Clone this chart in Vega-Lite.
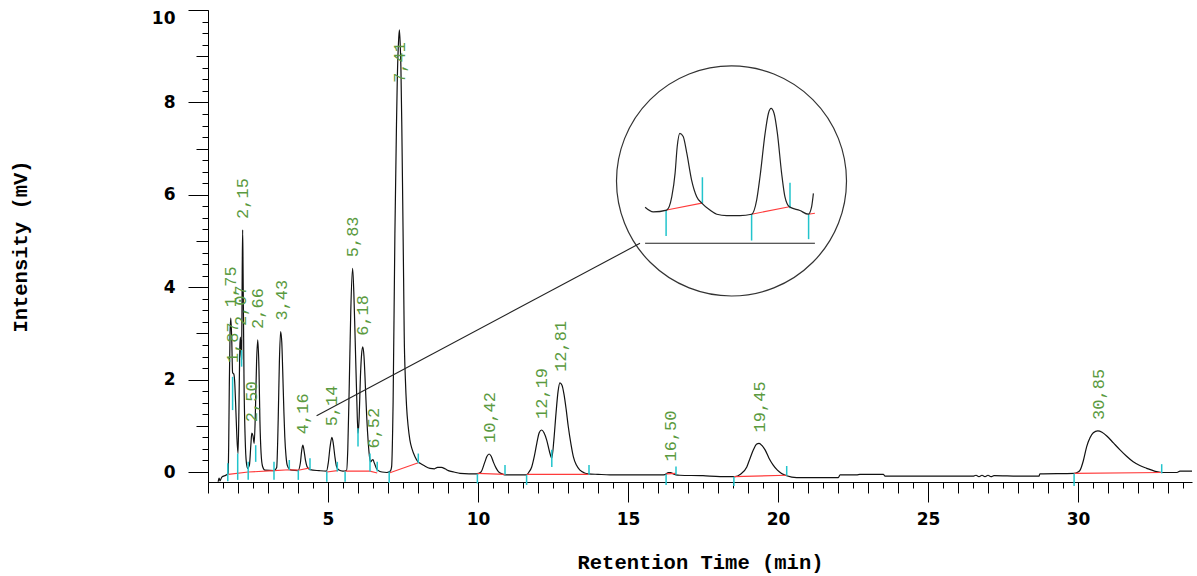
{
  "$schema": "https://vega.github.io/schema/vega-lite/v6.json",
  "width": 984,
  "height": 472,
  "autosize": {"type": "none"},
  "padding": {"left": 208, "top": 10, "right": 5, "bottom": 94},
  "background": "white",
  "config": {
    "view": {"stroke": null},
    "axis": {"grid": false, "domainColor": "#000", "tickColor": "#000", "labelColor": "#000", "titleColor": "#000", "domainWidth": 1, "tickWidth": 1}
  },
  "datasets": {
    "trace": [
      {"t": 1.34, "mV": -0.21}, {"t": 1.37, "mV": -0.13}, {"t": 1.40, "mV": -0.19}, {"t": 1.46, "mV": -0.11},
      {"t": 1.62, "mV": -0.06}, {"t": 1.67, "mV": -0.03}, {"t": 1.69, "mV": 0.6}, {"t": 1.71, "mV": 1.85},
      {"t": 1.735, "mV": 3.0}, {"t": 1.76, "mV": 3.33}, {"t": 1.79, "mV": 2.9}, {"t": 1.82, "mV": 2.15},
      {"t": 1.86, "mV": 2.12}, {"t": 1.89, "mV": 1.95}, {"t": 1.92, "mV": 1.5}, {"t": 1.96, "mV": 0.8},
      {"t": 2.0, "mV": 0.4}, {"t": 2.03, "mV": 1.3}, {"t": 2.06, "mV": 2.7}, {"t": 2.08, "mV": 2.92},
      {"t": 2.10, "mV": 2.6}, {"t": 2.12, "mV": 2.45}, {"t": 2.14, "mV": 4.3}, {"t": 2.155, "mV": 5.24},
      {"t": 2.17, "mV": 4.3}, {"t": 2.2, "mV": 2.0}, {"t": 2.24, "mV": 0.7}, {"t": 2.28, "mV": 0.2},
      {"t": 2.32, "mV": 0.08}, {"t": 2.38, "mV": 0.15}, {"t": 2.43, "mV": 0.6}, {"t": 2.46, "mV": 0.84},
      {"t": 2.5, "mV": 0.78}, {"t": 2.54, "mV": 0.62}, {"t": 2.58, "mV": 1.3}, {"t": 2.62, "mV": 2.4},
      {"t": 2.66, "mV": 2.86}, {"t": 2.70, "mV": 2.2}, {"t": 2.73, "mV": 1.13}, {"t": 2.77, "mV": 0.4},
      {"t": 2.82, "mV": 0.12}, {"t": 2.9, "mV": 0.04}, {"t": 3.2, "mV": 0.03}, {"t": 3.29, "mV": 0.1},
      {"t": 3.34, "mV": 1.13}, {"t": 3.38, "mV": 2.4}, {"t": 3.42, "mV": 3.04}, {"t": 3.46, "mV": 2.8},
      {"t": 3.49, "mV": 2.2}, {"t": 3.53, "mV": 1.3}, {"t": 3.56, "mV": 0.76}, {"t": 3.6, "mV": 0.35},
      {"t": 3.64, "mV": 0.15}, {"t": 3.72, "mV": 0.06}, {"t": 3.8, "mV": 0.04}, {"t": 4.0, "mV": 0.03},
      {"t": 4.08, "mV": 0.2}, {"t": 4.12, "mV": 0.45}, {"t": 4.16, "mV": 0.58}, {"t": 4.2, "mV": 0.47},
      {"t": 4.25, "mV": 0.25}, {"t": 4.3, "mV": 0.12}, {"t": 4.4, "mV": 0.05}, {"t": 4.7, "mV": 0.03},
      {"t": 4.95, "mV": 0.02}, {"t": 5.01, "mV": 0.2}, {"t": 5.07, "mV": 0.55}, {"t": 5.13, "mV": 0.75},
      {"t": 5.18, "mV": 0.6}, {"t": 5.23, "mV": 0.33}, {"t": 5.28, "mV": 0.13}, {"t": 5.35, "mV": 0.05},
      {"t": 5.5, "mV": 0.02}, {"t": 5.62, "mV": 0.04}, {"t": 5.66, "mV": 0.5}, {"t": 5.71, "mV": 1.92},
      {"t": 5.76, "mV": 3.5}, {"t": 5.82, "mV": 4.41}, {"t": 5.86, "mV": 3.9}, {"t": 5.9, "mV": 3.0},
      {"t": 5.96, "mV": 1.56}, {"t": 6.0, "mV": 0.84}, {"t": 6.04, "mV": 1.2}, {"t": 6.08, "mV": 2.05},
      {"t": 6.12, "mV": 2.55}, {"t": 6.16, "mV": 2.71}, {"t": 6.2, "mV": 2.5}, {"t": 6.25, "mV": 1.8},
      {"t": 6.29, "mV": 1.2}, {"t": 6.34, "mV": 0.65}, {"t": 6.38, "mV": 0.35}, {"t": 6.42, "mV": 0.22},
      {"t": 6.47, "mV": 0.26}, {"t": 6.5, "mV": 0.27}, {"t": 6.53, "mV": 0.22}, {"t": 6.57, "mV": 0.15},
      {"t": 6.62, "mV": 0.07}, {"t": 6.68, "mV": 0.03}, {"t": 6.8, "mV": 0.0}, {"t": 6.96, "mV": -0.01},
      {"t": 7.08, "mV": 0.02}, {"t": 7.12, "mV": 0.11}, {"t": 7.17, "mV": 1.5}, {"t": 7.23, "mV": 5.17},
      {"t": 7.28, "mV": 7.4}, {"t": 7.31, "mV": 8.5}, {"t": 7.35, "mV": 9.3}, {"t": 7.38, "mV": 9.57},
      {"t": 7.41, "mV": 9.2}, {"t": 7.43, "mV": 8.77}, {"t": 7.46, "mV": 7.5}, {"t": 7.49, "mV": 5.89},
      {"t": 7.52, "mV": 4.2}, {"t": 7.54, "mV": 3.0}, {"t": 7.58, "mV": 2.0}, {"t": 7.62, "mV": 1.41},
      {"t": 7.67, "mV": 1.0}, {"t": 7.73, "mV": 0.69}, {"t": 7.8, "mV": 0.5}, {"t": 7.9, "mV": 0.33},
      {"t": 8.0, "mV": 0.22}, {"t": 8.07, "mV": 0.19}, {"t": 8.2, "mV": 0.14}, {"t": 8.4, "mV": 0.08},
      {"t": 8.55, "mV": 0.07}, {"t": 8.65, "mV": 0.1}, {"t": 8.78, "mV": 0.1}, {"t": 8.9, "mV": 0.07},
      {"t": 9.01, "mV": 0.03}, {"t": 9.2, "mV": 0.0}, {"t": 9.4, "mV": -0.03}, {"t": 9.7, "mV": -0.04},
      {"t": 9.97, "mV": -0.04}, {"t": 10.1, "mV": 0.0}, {"t": 10.23, "mV": 0.22}, {"t": 10.3, "mV": 0.34},
      {"t": 10.37, "mV": 0.39}, {"t": 10.44, "mV": 0.34}, {"t": 10.51, "mV": 0.22}, {"t": 10.6, "mV": 0.09},
      {"t": 10.68, "mV": 0.01}, {"t": 10.8, "mV": -0.04}, {"t": 10.9, "mV": -0.06}, {"t": 11.3, "mV": -0.06},
      {"t": 11.62, "mV": -0.06}, {"t": 11.7, "mV": 0.0}, {"t": 11.79, "mV": 0.11}, {"t": 11.88, "mV": 0.35},
      {"t": 11.96, "mV": 0.62}, {"t": 12.04, "mV": 0.85}, {"t": 12.12, "mV": 0.91}, {"t": 12.2, "mV": 0.85},
      {"t": 12.29, "mV": 0.69}, {"t": 12.38, "mV": 0.45}, {"t": 12.46, "mV": 0.3}, {"t": 12.53, "mV": 0.7},
      {"t": 12.6, "mV": 1.27}, {"t": 12.67, "mV": 1.75}, {"t": 12.73, "mV": 1.93}, {"t": 12.8, "mV": 1.88},
      {"t": 12.87, "mV": 1.67}, {"t": 12.94, "mV": 1.35}, {"t": 13.01, "mV": 0.98}, {"t": 13.1, "mV": 0.6},
      {"t": 13.18, "mV": 0.33}, {"t": 13.28, "mV": 0.15}, {"t": 13.4, "mV": 0.04}, {"t": 13.55, "mV": -0.02},
      {"t": 13.68, "mV": -0.04}, {"t": 14.0, "mV": -0.05}, {"t": 14.4, "mV": -0.06}, {"t": 15.0, "mV": -0.06},
      {"t": 15.5, "mV": -0.06}, {"t": 16.18, "mV": -0.06}, {"t": 16.28, "mV": -0.04}, {"t": 16.34, "mV": -0.01},
      {"t": 16.42, "mV": -0.01}, {"t": 16.51, "mV": -0.04}, {"t": 16.6, "mV": -0.06}, {"t": 16.73, "mV": -0.07},
      {"t": 17.5, "mV": -0.08}, {"t": 18.07, "mV": -0.1}, {"t": 18.57, "mV": -0.1}, {"t": 18.75, "mV": -0.05},
      {"t": 18.96, "mV": 0.11}, {"t": 19.07, "mV": 0.3}, {"t": 19.18, "mV": 0.48}, {"t": 19.28, "mV": 0.6},
      {"t": 19.37, "mV": 0.62}, {"t": 19.47, "mV": 0.57}, {"t": 19.57, "mV": 0.48}, {"t": 19.7, "mV": 0.3},
      {"t": 19.84, "mV": 0.15}, {"t": 19.98, "mV": 0.04}, {"t": 20.12, "mV": -0.03}, {"t": 20.29, "mV": -0.08},
      {"t": 20.62, "mV": -0.12}, {"t": 22.01, "mV": -0.12}, {"t": 22.07, "mV": -0.06}, {"t": 22.62, "mV": -0.06},
      {"t": 22.73, "mV": -0.05}, {"t": 23.51, "mV": -0.05}, {"t": 23.57, "mV": -0.09}, {"t": 26.5, "mV": -0.09},
      {"t": 26.6, "mV": -0.07}, {"t": 26.7, "mV": -0.1}, {"t": 26.8, "mV": -0.07}, {"t": 26.9, "mV": -0.1},
      {"t": 27.0, "mV": -0.07}, {"t": 27.1, "mV": -0.1}, {"t": 27.2, "mV": -0.08}, {"t": 28.07, "mV": -0.09},
      {"t": 28.7, "mV": -0.09}, {"t": 28.73, "mV": -0.04}, {"t": 29.87, "mV": -0.03}, {"t": 30.0, "mV": 0.0},
      {"t": 30.07, "mV": 0.04}, {"t": 30.18, "mV": 0.25}, {"t": 30.29, "mV": 0.55}, {"t": 30.4, "mV": 0.74},
      {"t": 30.51, "mV": 0.85}, {"t": 30.66, "mV": 0.89}, {"t": 30.8, "mV": 0.86}, {"t": 30.96, "mV": 0.78},
      {"t": 31.18, "mV": 0.63}, {"t": 31.4, "mV": 0.48}, {"t": 31.62, "mV": 0.34}, {"t": 31.84, "mV": 0.22},
      {"t": 32.06, "mV": 0.14}, {"t": 32.29, "mV": 0.08}, {"t": 32.55, "mV": 0.02}, {"t": 32.79, "mV": -0.01},
      {"t": 33.3, "mV": -0.01}, {"t": 33.4, "mV": 0.02}, {"t": 33.8, "mV": 0.02}
    ],
    "peaks": [
      {"rt": "1,75", "t": 1.76, "apex": 3.33}, {"rt": "1,87", "t": 1.83, "apex": 2.12},
      {"rt": "2,07", "t": 2.1, "apex": 2.92}, {"rt": "2,15", "t": 2.155, "apex": 5.24},
      {"rt": "2,50", "t": 2.46, "apex": 0.84}, {"rt": "2,66", "t": 2.67, "apex": 2.86},
      {"rt": "3,43", "t": 3.45, "apex": 3.04}, {"rt": "4,16", "t": 4.17, "apex": 0.58},
      {"rt": "5,14", "t": 5.14, "apex": 0.75}, {"rt": "5,83", "t": 5.83, "apex": 4.41},
      {"rt": "6,18", "t": 6.18, "apex": 2.71}, {"rt": "6,52", "t": 6.52, "apex": 0.27},
      {"rt": "7,41", "t": 7.41, "apex": 9.57}, {"rt": "10,42", "t": 10.4, "apex": 0.39},
      {"rt": "12,19", "t": 12.14, "apex": 0.91}, {"rt": "12,81", "t": 12.75, "apex": 1.93},
      {"rt": "16,50", "t": 16.44, "apex": -0.01}, {"rt": "19,45", "t": 19.4, "apex": 0.62},
      {"rt": "30,85", "t": 30.7, "apex": 0.89}
    ],
    "baselines": [
      {"seg": "b1", "t": 1.68, "mV": -0.05}, {"seg": "b1", "t": 2.34, "mV": 0.0}, {"seg": "b1", "t": 3.2, "mV": 0.03},
      {"seg": "b1", "t": 3.71, "mV": 0.05}, {"seg": "b1", "t": 4.01, "mV": 0.04}, {"seg": "b1", "t": 4.4, "mV": 0.09},
      {"seg": "b2", "t": 4.96, "mV": 0.0}, {"seg": "b2", "t": 5.31, "mV": 0.03},
      {"seg": "b3", "t": 5.57, "mV": 0.02}, {"seg": "b3", "t": 6.4, "mV": 0.02}, {"seg": "b3", "t": 6.64, "mV": -0.02},
      {"seg": "b4", "t": 7.04, "mV": -0.02}, {"seg": "b4", "t": 8.01, "mV": 0.2},
      {"seg": "b5", "t": 9.98, "mV": -0.03}, {"seg": "b5", "t": 10.9, "mV": -0.05},
      {"seg": "b6", "t": 11.62, "mV": -0.05}, {"seg": "b6", "t": 13.7, "mV": -0.05},
      {"seg": "b7", "t": 16.27, "mV": -0.04}, {"seg": "b7", "t": 16.6, "mV": -0.03},
      {"seg": "b8", "t": 18.53, "mV": -0.1}, {"seg": "b8", "t": 20.29, "mV": -0.07},
      {"seg": "b9", "t": 29.87, "mV": -0.03}, {"seg": "b9", "t": 32.79, "mV": -0.01},
      {"seg": "i1", "t": 16.29, "mV": 5.67}, {"seg": "i1", "t": 17.46, "mV": 5.82},
      {"seg": "i2", "t": 19.12, "mV": 5.58}, {"seg": "i2", "t": 20.38, "mV": 5.74},
      {"seg": "i3", "t": 21.01, "mV": 5.58}, {"seg": "i3", "t": 21.23, "mV": 5.6}
    ],
    "markers": [
      {"t": 1.66, "lo": -0.2, "hi": 0.19}, {"t": 1.82, "lo": 1.34, "hi": 2.06}, {"t": 1.99, "lo": -0.17, "hi": 0.4},
      {"t": 2.12, "lo": 2.28, "hi": 2.64}, {"t": 2.34, "lo": -0.17, "hi": 0.22}, {"t": 2.59, "lo": 0.22, "hi": 0.58},
      {"t": 3.2, "lo": -0.17, "hi": 0.22}, {"t": 3.71, "lo": 0.04, "hi": 0.26}, {"t": 4.01, "lo": -0.17, "hi": 0.04},
      {"t": 4.4, "lo": 0.04, "hi": 0.3}, {"t": 4.96, "lo": -0.21, "hi": 0.01}, {"t": 5.31, "lo": 0.01, "hi": 0.22},
      {"t": 5.57, "lo": -0.21, "hi": 0.01}, {"t": 6.0, "lo": 0.55, "hi": 0.95}, {"t": 6.4, "lo": 0.01, "hi": 0.4},
      {"t": 6.64, "lo": 0.01, "hi": 0.22}, {"t": 7.04, "lo": -0.24, "hi": 0.01}, {"t": 8.01, "lo": 0.19, "hi": 0.4},
      {"t": 9.98, "lo": -0.25, "hi": -0.04}, {"t": 10.9, "lo": -0.06, "hi": 0.15}, {"t": 11.62, "lo": -0.28, "hi": -0.06},
      {"t": 12.46, "lo": 0.11, "hi": 0.48}, {"t": 13.7, "lo": -0.06, "hi": 0.15}, {"t": 16.27, "lo": -0.28, "hi": -0.05},
      {"t": 16.6, "lo": -0.06, "hi": 0.12}, {"t": 18.53, "lo": -0.3, "hi": -0.1}, {"t": 20.29, "lo": -0.08, "hi": 0.13},
      {"t": 29.87, "lo": -0.3, "hi": -0.03}, {"t": 32.79, "lo": -0.03, "hi": 0.17},
      {"t": 16.27, "lo": 5.11, "hi": 5.67}, {"t": 17.48, "lo": 5.82, "hi": 6.38}, {"t": 19.12, "lo": 5.01, "hi": 5.58},
      {"t": 20.4, "lo": 5.71, "hi": 6.26}, {"t": 21.02, "lo": 5.04, "hi": 5.58}
    ],
    "inset_trace": [
      {"t": 15.57, "mV": 5.73}, {"t": 15.84, "mV": 5.63}, {"t": 16.29, "mV": 5.67}, {"t": 16.46, "mV": 5.96},
      {"t": 16.57, "mV": 6.47}, {"t": 16.64, "mV": 7.04}, {"t": 16.73, "mV": 7.33}, {"t": 16.84, "mV": 7.26},
      {"t": 16.96, "mV": 6.9}, {"t": 17.12, "mV": 6.32}, {"t": 17.29, "mV": 5.96}, {"t": 17.46, "mV": 5.82},
      {"t": 17.73, "mV": 5.67}, {"t": 17.96, "mV": 5.58}, {"t": 18.29, "mV": 5.55}, {"t": 18.73, "mV": 5.55},
      {"t": 19.12, "mV": 5.58}, {"t": 19.29, "mV": 5.89}, {"t": 19.4, "mV": 6.39}, {"t": 19.57, "mV": 7.33},
      {"t": 19.68, "mV": 7.76}, {"t": 19.77, "mV": 7.87}, {"t": 19.87, "mV": 7.76}, {"t": 19.98, "mV": 7.33},
      {"t": 20.12, "mV": 6.47}, {"t": 20.23, "mV": 5.96}, {"t": 20.38, "mV": 5.74}, {"t": 20.73, "mV": 5.66},
      {"t": 21.01, "mV": 5.58}, {"t": 21.12, "mV": 5.74}, {"t": 21.18, "mV": 6.03}
    ],
    "inset_lines": [
      {"seg": "connector", "t": 4.62, "mV": 1.22}, {"seg": "connector", "t": 15.4, "mV": 4.95},
      {"seg": "axis", "t": 15.57, "mV": 4.95}, {"seg": "axis", "t": 21.23, "mV": 4.95}
    ],
    "inset_frame": [{"t": 18.45, "mV": 6.3}]
  },
  "resolve": {"axis": {"x": "independent", "y": "independent"}},
  "layer": [
    {
      "data": {"name": "trace"},
      "mark": {"type": "line", "interpolate": "monotone", "color": "#111", "strokeWidth": 1.2},
      "encoding": {
        "x": {"field": "t", "type": "quantitative", "scale": {"domain": [1, 33.8], "nice": false, "zero": false},
          "axis": {"orient": "bottom", "values": [5, 10, 15, 20, 25, 30], "tickSize": 20, "labelPadding": 9,
            "labelFont": "DejaVu Sans", "labelFontWeight": "bold", "labelFontSize": 17, "labelOverlap": false,
            "title": "Retention Time (min)", "titleFont": "Liberation Mono", "titleFontWeight": "bold", "titleFontSize": 20.5,
            "titleY": 86, "titleBaseline": "alphabetic"}},
        "y": {"field": "mV", "type": "quantitative", "scale": {"domain": [-0.216, 10], "nice": false, "zero": false},
          "axis": {"orient": "left", "values": [0, 2, 4, 6, 8, 10], "tickSize": 20, "labelPadding": 13,
            "labelFont": "DejaVu Sans", "labelFontWeight": "bold", "labelFontSize": 17, "labelFlush": true, "labelOverlap": false,
            "title": "Intensity (mV)", "titleFont": "Liberation Mono", "titleFontWeight": "bold", "titleFontSize": 20.5,
            "titleAngle": 270, "titleX": -182, "titleY": 236, "titleAlign": "center", "titleBaseline": "alphabetic"}}
      }
    },
    {
      "data": {"name": "baselines"},
      "mark": {"type": "line", "color": "#ff3b3b", "strokeWidth": 1.1},
      "encoding": {
        "x": {"field": "t", "type": "quantitative", "scale": {"domain": [1, 33.8], "nice": false, "zero": false},
          "axis": {"orient": "bottom", "values": [1,2,3,4,5,6,7,8,9,10,11,12,13,14,15,16,17,18,19,20,21,22,23,24,25,26,27,28,29,30,31,32,33],
            "tickSize": 11, "labels": false, "domain": false, "title": null}},
        "y": {"field": "mV", "type": "quantitative", "scale": {"domain": [-0.216, 10], "nice": false, "zero": false},
          "axis": {"orient": "left", "values": [1, 3, 5, 7, 9], "tickSize": 12, "labels": false, "domain": false, "title": null}},
        "detail": {"field": "seg"}
      }
    },
    {
      "data": {"name": "markers"},
      "mark": {"type": "rule", "color": "#22c4cc", "strokeWidth": 1.5},
      "encoding": {
        "x": {"field": "t", "type": "quantitative", "scale": {"domain": [1, 33.8], "nice": false, "zero": false},
          "axis": {"orient": "bottom", "values": [1,1.5,2,2.5,3,3.5,4,4.5,5,5.5,6,6.5,7,7.5,8,8.5,9,9.5,10,10.5,11,11.5,12,12.5,13,13.5,14,14.5,15,15.5,16,16.5,17,17.5,18,18.5,19,19.5,20,20.5,21,21.5,22,22.5,23,23.5,24,24.5,25,25.5,26,26.5,27,27.5,28,28.5,29,29.5,30,30.5,31,31.5,32,32.5,33,33.5],
            "tickSize": 6, "labels": false, "domain": false, "title": null}},
        "y": {"field": "lo", "type": "quantitative", "scale": {"domain": [-0.216, 10], "nice": false, "zero": false},
          "axis": {"orient": "left", "values": [0,0.25,0.5,0.75,1,1.25,1.5,1.75,2,2.25,2.5,2.75,3,3.25,3.5,3.75,4,4.25,4.5,4.75,5,5.25,5.5,5.75,6,6.25,6.5,6.75,7,7.25,7.5,7.75,8,8.25,8.5,8.75,9,9.25,9.5,9.75,10],
            "tickSize": 6, "labels": false, "domain": false, "title": null}},
        "y2": {"field": "hi"}
      }
    },
    {
      "data": {"name": "peaks"},
      "transform": [{"filter": "datum.apex < 9"}],
      "mark": {"type": "text", "angle": 270, "align": "left", "baseline": "middle", "dx": 11,
        "font": "Liberation Mono", "fontSize": 17, "color": "#5a9a40"},
      "encoding": {
        "x": {"field": "t", "type": "quantitative", "scale": {"domain": [1, 33.8], "nice": false, "zero": false}, "axis": null},
        "y": {"field": "apex", "type": "quantitative", "scale": {"domain": [-0.216, 10], "nice": false, "zero": false}, "axis": null},
        "text": {"field": "rt"}
      }
    },
    {
      "data": {"name": "peaks"},
      "transform": [{"filter": "datum.apex >= 9"}],
      "mark": {"type": "text", "angle": 270, "align": "left", "baseline": "middle", "dx": -53,
        "font": "Liberation Mono", "fontSize": 17, "color": "#5a9a40"},
      "encoding": {
        "x": {"field": "t", "type": "quantitative", "scale": {"domain": [1, 33.8], "nice": false, "zero": false}, "axis": null},
        "y": {"field": "apex", "type": "quantitative", "scale": {"domain": [-0.216, 10], "nice": false, "zero": false}, "axis": null},
        "text": {"field": "rt"}
      }
    },
    {
      "data": {"name": "inset_frame"},
      "mark": {"type": "point", "shape": "circle", "size": 52900, "filled": false, "color": "#333", "strokeWidth": 1.2, "opacity": 1},
      "encoding": {
        "x": {"field": "t", "type": "quantitative", "scale": {"domain": [1, 33.8], "nice": false, "zero": false}, "axis": null},
        "y": {"field": "mV", "type": "quantitative", "scale": {"domain": [-0.216, 10], "nice": false, "zero": false}, "axis": null}
      }
    },
    {
      "data": {"name": "inset_lines"},
      "mark": {"type": "line", "color": "#222", "strokeWidth": 1.1},
      "encoding": {
        "x": {"field": "t", "type": "quantitative", "scale": {"domain": [1, 33.8], "nice": false, "zero": false}, "axis": null},
        "y": {"field": "mV", "type": "quantitative", "scale": {"domain": [-0.216, 10], "nice": false, "zero": false}, "axis": null},
        "detail": {"field": "seg"}
      }
    },
    {
      "data": {"name": "inset_trace"},
      "mark": {"type": "line", "interpolate": "monotone", "color": "#222", "strokeWidth": 1.2},
      "encoding": {
        "x": {"field": "t", "type": "quantitative", "scale": {"domain": [1, 33.8], "nice": false, "zero": false}, "axis": null},
        "y": {"field": "mV", "type": "quantitative", "scale": {"domain": [-0.216, 10], "nice": false, "zero": false}, "axis": null}
      }
    }
  ]
}
